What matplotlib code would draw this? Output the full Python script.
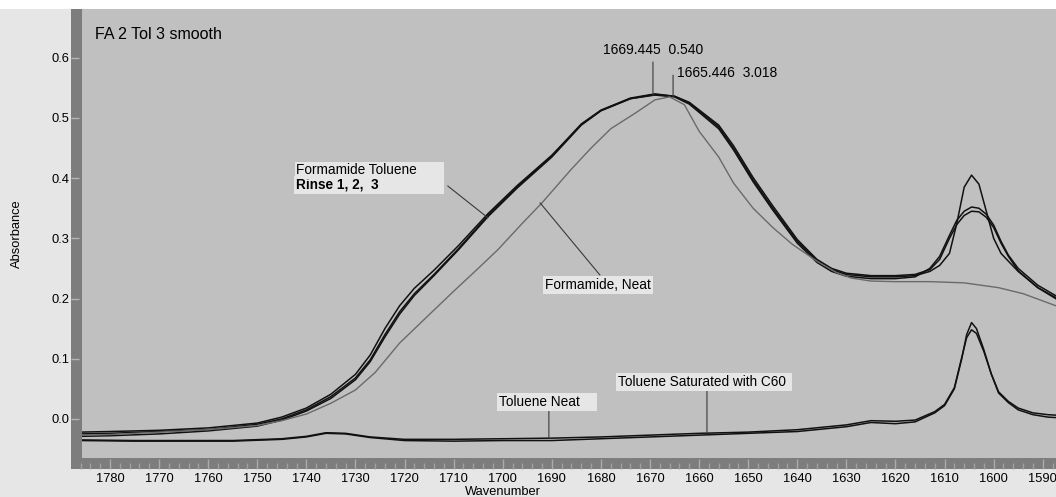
import matplotlib
matplotlib.use("Agg")
import matplotlib.pyplot as plt
from matplotlib.patches import Rectangle
from matplotlib.ticker import MultipleLocator, FormatStrFormatter

plt.rcParams['font.family'] = ['Liberation Sans', 'DejaVu Sans']

# formamide / toluene rinse spectra (3 runs)
wn_rinse = [1786, 1780, 1770, 1760, 1750, 1745, 1740, 1735, 1730, 1727, 1724, 1721,
            1718, 1714, 1709, 1703, 1697, 1690, 1684, 1680, 1674, 1669, 1665, 1662,
            1656, 1653, 1649, 1645, 1640, 1636, 1633, 1630, 1625, 1620, 1616, 1613,
            1611, 1609, 1607.5, 1606, 1604.5, 1603, 1601.5, 1600, 1598.5, 1597, 1595,
            1591, 1587]
rinse1 = [-0.025, -0.024, -0.021, -0.018, -0.009, 0.000, 0.015, 0.037, 0.068, 0.098, 0.140, 0.178,
          0.208, 0.240, 0.283, 0.338, 0.386, 0.437, 0.490, 0.513, 0.533, 0.540, 0.536, 0.525,
          0.485, 0.450, 0.397, 0.350, 0.295, 0.263, 0.248, 0.240, 0.236, 0.236, 0.238, 0.245,
          0.255, 0.275, 0.325, 0.385, 0.405, 0.390, 0.345, 0.300, 0.275, 0.262, 0.245,
          0.218, 0.200]
rinse2 = [-0.022, -0.021, -0.019, -0.015, -0.007, 0.003, 0.018, 0.041, 0.074, 0.106, 0.150, 0.188,
          0.217, 0.247, 0.288, 0.341, 0.388, 0.438, 0.489, 0.512, 0.532, 0.538, 0.535, 0.523,
          0.482, 0.447, 0.394, 0.347, 0.292, 0.260, 0.245, 0.237, 0.233, 0.233, 0.236, 0.250,
          0.270, 0.305, 0.330, 0.345, 0.352, 0.350, 0.340, 0.322, 0.295, 0.272, 0.250,
          0.222, 0.203]
rinse3 = [-0.029, -0.028, -0.025, -0.020, -0.012, -0.002, 0.013, 0.034, 0.065, 0.095, 0.136, 0.174,
          0.205, 0.238, 0.281, 0.336, 0.384, 0.435, 0.488, 0.512, 0.532, 0.539, 0.536, 0.526,
          0.488, 0.454, 0.401, 0.354, 0.298, 0.265, 0.250, 0.242, 0.238, 0.238, 0.240, 0.248,
          0.265, 0.300, 0.323, 0.338, 0.345, 0.344, 0.335, 0.318, 0.292, 0.270, 0.246,
          0.218, 0.198]

# formamide, neat
wn_neat = [1786, 1780, 1770, 1760, 1750, 1745, 1740, 1735, 1730, 1726, 1721, 1715, 1710,
           1705, 1701, 1696, 1692, 1686, 1682, 1678, 1673, 1669, 1666, 1663, 1660, 1656,
           1653, 1649, 1645, 1641, 1636, 1632, 1629, 1625, 1620, 1613, 1606, 1599, 1594,
           1590, 1587]
neat = [-0.027, -0.026, -0.022, -0.018, -0.011, -0.003, 0.008, 0.026, 0.048, 0.077, 0.126, 0.173,
        0.212, 0.250, 0.281, 0.325, 0.359, 0.415, 0.450, 0.482, 0.508, 0.530, 0.535, 0.522,
        0.478, 0.435, 0.392, 0.350, 0.318, 0.290, 0.262, 0.243, 0.234, 0.229, 0.228, 0.228,
        0.226, 0.218, 0.208, 0.196, 0.187]

# toluene spectra
wn_tol = [1786, 1775, 1765, 1755, 1745, 1740, 1736, 1732, 1727, 1720, 1710, 1700, 1690,
          1680, 1670, 1660, 1650, 1640, 1630, 1625, 1620, 1616, 1612, 1610, 1608, 1606.5,
          1605.5, 1604.5, 1603.5, 1602, 1600.5, 1599, 1597, 1595, 1592, 1589, 1587]
tol_neat = [-0.036, -0.037, -0.037, -0.037, -0.034, -0.030, -0.024, -0.025, -0.031, -0.036,
            -0.037, -0.036, -0.036, -0.033, -0.030, -0.027, -0.024, -0.021, -0.013, -0.006,
            -0.008, -0.005, 0.010, 0.022, 0.050, 0.100, 0.140, 0.160, 0.150, 0.115, 0.075,
            0.043, 0.027, 0.015, 0.007, 0.003, 0.002]
tol_c60 = [-0.035, -0.036, -0.036, -0.036, -0.033, -0.029, -0.023, -0.024, -0.030, -0.034,
           -0.034, -0.033, -0.032, -0.030, -0.027, -0.024, -0.022, -0.018, -0.010, -0.003,
           -0.004, -0.002, 0.012, 0.024, 0.052, 0.102, 0.135, 0.148, 0.142, 0.112, 0.075,
           0.045, 0.029, 0.018, 0.010, 0.007, 0.006]

x_ticks = list(range(1590, 1781, 10))
y_ticks = [0.0, 0.1, 0.2, 0.3, 0.4, 0.5, 0.6]

W, H = 1056, 497
fig = plt.figure(figsize=(W / 100, H / 100), dpi=100, facecolor='#e6e6e6')
fig.patches.append(Rectangle((0, 1 - 9 / H), 1, 9 / H, transform=fig.transFigure,
                             facecolor='white', edgecolor='none'))


def px_box(l, t, r, b):
    return [l / W, 1 - b / H, (r - l) / W, (b - t) / H]


frame = fig.add_axes(px_box(71, 9, 1056, 469), facecolor='#7d7d7d')
ax = fig.add_axes(px_box(82, 9, 1056, 458), facecolor='#c0c0c0')

xlim = (1785.7, 1587.3)
ylim = (-0.065, 0.681)
ax.set_xlim(*xlim)
ax.set_ylim(*ylim)
ppx = (1056 - 82) / (xlim[0] - xlim[1])
ppy = (458 - 9) / (ylim[1] - ylim[0])
frame.set_xlim(xlim[0] + 11 / ppx, xlim[1])
frame.set_ylim(ylim[0] - 11 / ppy, ylim[1])

for a in (ax, frame):
    for s in a.spines.values():
        s.set_visible(False)
ax.set_xticks([])
ax.set_yticks([])

frame.set_xticks(x_ticks)
frame.xaxis.set_minor_locator(MultipleLocator(2))
frame.xaxis.set_major_formatter(FormatStrFormatter('%d'))
frame.set_yticks(y_ticks)
frame.yaxis.set_major_formatter(FormatStrFormatter('%.1f'))
frame.tick_params(axis='x', which='major', direction='in', length=7, width=1,
                  color='#ababab', pad=3, labelsize=9.3)
frame.tick_params(axis='x', which='minor', direction='in', length=4, width=1, color='#a0a0a0')
frame.tick_params(axis='y', direction='in', length=6, width=1, color='#b5b5b5',
                  pad=1, labelsize=9.3)

fig.text(503 / W, 1 - 486 / H, 'Wavenumber', ha='center', va='top', fontsize=9.3)
fig.text(17 / W, 1 - 234 / H, 'Absorbance', ha='center', va='center', rotation=90, fontsize=9.3)

for vals in (rinse1, rinse2, rinse3):
    ax.plot(wn_rinse, vals, color='#111111', lw=1.1)
ax.plot(wn_neat, neat, color='#6a6a6a', lw=1.0)
ax.plot(wn_tol, tol_neat, color='#111111', lw=1.1)
ax.plot(wn_tol, tol_c60, color='#111111', lw=1.1)

ax.text(1783.1, 0.638, 'FA 2 Tol 3 smooth', fontsize=11.5, va='center', ha='left')

lead = dict(arrowstyle='-', color='#3a3a3a', lw=0.8, shrinkA=0, shrinkB=0)
# peak markers
ax.annotate('', xy=(1669.4, 0.538), xytext=(1669.4, 0.593), arrowprops=lead)
ax.text(1669.4, 0.613, '1669.445  0.540', fontsize=10, ha='center', va='center')
ax.annotate('', xy=(1665.3, 0.535), xytext=(1665.3, 0.571), arrowprops=lead)
ax.text(1664.6, 0.575, '1665.446  3.018', fontsize=10, ha='left', va='center')

bbox = dict(boxstyle='square,pad=0.15', facecolor='#e6e6e6', edgecolor='none')
ax.annotate('', xy=(1703.0, 0.334), xytext=(1711.2, 0.387), arrowprops=lead)
ax.text(1742.1, 0.389, 'Rinse 1, 2,  3' + ' ' * 17, fontsize=9.8, ha='left', va='center',
        fontweight='bold', zorder=3, bbox=bbox)
ax.text(1742.1, 0.413, 'Formamide Toluene       ', fontsize=9.8, ha='left', va='center',
        zorder=4, bbox=dict(boxstyle='square,pad=0.1', facecolor='#e6e6e6', edgecolor='none'))

ax.annotate('', xy=(1692.4, 0.359), xytext=(1680.2, 0.239), arrowprops=lead)
ax.text(1691.4, 0.222, 'Formamide, Neat', fontsize=9.8, ha='left', va='center', bbox=bbox)

ax.annotate('', xy=(1690.6, -0.032), xytext=(1690.6, 0.014), arrowprops=lead)
ax.text(1700.8, 0.028, 'Toluene Neat    ', fontsize=9.8, ha='left', va='center', bbox=bbox)

ax.annotate('', xy=(1658.4, -0.022), xytext=(1658.4, 0.047), arrowprops=lead)
ax.text(1676.5, 0.061, 'Toluene Saturated with C60 ', fontsize=9.8, ha='left', va='center',
        bbox=bbox)

fig.savefig('out.png', dpi=100, facecolor=fig.get_facecolor())
